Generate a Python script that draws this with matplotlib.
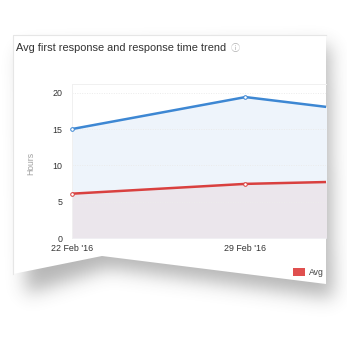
import matplotlib
matplotlib.use("Agg")
import matplotlib.pyplot as plt
from matplotlib.path import Path
from matplotlib.patches import Polygon, Rectangle
import numpy as np
import pandas as pd

plt.rcParams['font.family'] = ['Liberation Sans', 'DejaVu Sans']

# data (hours)
dates = pd.to_datetime(["2016-02-22", "2016-02-29", "2016-03-07"])
first_response = [15.0, 19.4, 16.5]
avg_response = [6.1, 7.45, 8.0]
y_ticks = [0, 5, 10, 15, 20]
title = "Avg first response and response time trend"
legend_label = "Avg"

W = H = 347
fig = plt.figure(figsize=(W / 100, H / 100), dpi=100)
fig.patch.set_facecolor("white")

# background layer in pixel coords: shadow + card
bg = fig.add_axes([0, 0, 1, 1], zorder=0)
bg.set_xlim(0, W)
bg.set_ylim(H, 0)
bg.axis("off")

card = [(13, 35), (326, 35), (326, 284), (102, 256), (13, 274)]
shadow = [(22, 50), (330, 46), (333, 298), (108, 268), (26, 294)]

yy, xx = np.mgrid[0:H, 0:W]
pts = np.column_stack([xx.ravel() + 0.5, yy.ravel() + 0.5])
mask = Path(shadow).contains_points(pts).reshape(H, W).astype(float)
k = np.exp(-0.5 * (np.arange(-30, 31) / 9.0) ** 2)
k /= k.sum()
mask = np.apply_along_axis(lambda r: np.convolve(r, k, mode="same"), 1, mask)
mask = np.apply_along_axis(lambda c: np.convolve(c, k, mode="same"), 0, mask)
rgba = np.zeros((H, W, 4))
rgba[..., :3] = 0.25
rgba[..., 3] = mask * 0.38
bg.imshow(rgba, extent=[0, W, H, 0], interpolation="bilinear", zorder=1)

bg.add_patch(Polygon(card, closed=True, facecolor="white", edgecolor="none", zorder=2))
bg.plot([13, 13, 326], [274, 35, 35], color="#e6e6e6", lw=0.8, zorder=3)

bg.text(16, 48, title, fontsize=7.9, color="#333333", va="center", ha="left", zorder=4)
bg.text(235, 48, "\u24d8", fontsize=6.5, color="#b0b0b0", va="center", ha="center",
        family=["Noto Sans CJK JP", "DejaVu Sans"], zorder=4)
bg.text(31, 163, "Hours", fontsize=6.2, color="#a0a0a0", rotation=90,
        va="center", ha="center", zorder=4)

# legend
bg.add_patch(Rectangle((293, 268), 12, 8, facecolor="#e0504f", edgecolor="none", zorder=4))
bg.text(309, 272.5, legend_label, fontsize=6.2, color="#444444", va="center", ha="left", zorder=4)

# chart
left, right, top, bottom = 72, 326, 84, 238
ax = fig.add_axes([left / W, (H - bottom) / H, (right - left) / W, (bottom - top) / H], zorder=1)
ax.patch.set_alpha(0)

blue, red = "#3d87d3", "#d9403f"
ax.fill_between(dates, first_response, 0, color="#eef4fb", lw=0, zorder=1)
ax.fill_between(dates, avg_response, 0, color="#ebe6ec", lw=0, zorder=1.2)
for v in y_ticks[1:]:
    ax.axhline(v, color="#ebebeb", lw=0.7, ls=(0, (1, 1.5)), zorder=1.5)
ax.plot(dates, first_response, color=blue, lw=1.8, zorder=3)
ax.plot(dates, avg_response, color=red, lw=1.8, zorder=3)
ax.plot(dates, first_response, ls="none", marker="o", ms=2.6, mfc="white", mec=blue,
        mew=0.7, zorder=4, clip_on=False)
ax.plot(dates, avg_response, ls="none", marker="o", ms=2.6, mfc="white", mec=red,
        mew=0.7, zorder=4, clip_on=False)

ax.set_xlim(dates[0], dates[0] + pd.Timedelta(days=10.25))
ax.set_ylim(0, 21.2)
ax.set_yticks(y_ticks)
ax.set_yticklabels([str(v) for v in y_ticks])
ax.set_xticks(dates[:2])
ax.set_xticklabels([d.strftime("%d %b '%y") for d in dates[:2]])
ax.tick_params(length=0, labelsize=6.4, labelcolor="#333333")
ax.tick_params(axis="y", pad=7)
ax.tick_params(axis="x", pad=4)
for side in ["right", "bottom"]:
    ax.spines[side].set_visible(False)
for side in ["left", "top"]:
    ax.spines[side].set_color("#f0f0f0")
    ax.spines[side].set_linewidth(0.7)

fig.savefig("out.png", dpi=100)
